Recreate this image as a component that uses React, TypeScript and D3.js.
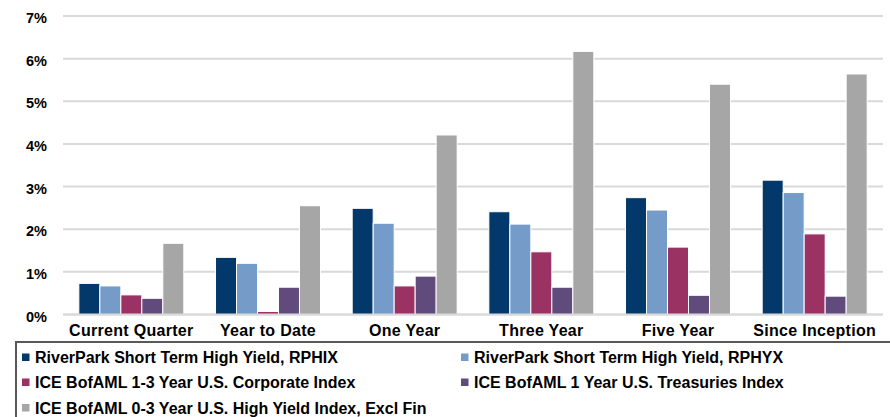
import React from "react";
import * as d3 from "d3";

const categories = ["Current Quarter", "Year to Date", "One Year", "Three Year", "Five Year", "Since Inception"];
const seriesNames = [
  "RiverPark Short Term High Yield, RPHIX",
  "RiverPark Short Term High Yield, RPHYX",
  "ICE BofAML 1-3 Year U.S. Corporate Index",
  "ICE BofAML 1 Year U.S. Treasuries Index",
  "ICE BofAML 0-3 Year U.S. High Yield Index, Excl Fin",
];
const rphix = [0.73, 1.34, 2.49, 2.41, 2.74, 3.15];
const rphyx = [0.67, 1.2, 2.14, 2.12, 2.45, 2.86];
const corp13 = [0.46, 0.07, 0.67, 1.47, 1.58, 1.89];
const treas1 = [0.38, 0.64, 0.9, 0.64, 0.45, 0.43];
const hy03 = [1.67, 2.55, 4.21, 6.17, 5.4, 5.64];
const yTicks = [0, 1, 2, 3, 4, 5, 6, 7];
const colors = ["#02386A", "#759CC9", "#9A3264", "#614A7C", "#A6A6A6"];

const seriesValues = [rphix, rphyx, corp13, treas1, hy03];

export default function App() {
  const W = 890, H = 417;
  const x0 = d3.scaleBand<string>().domain(categories).range([63, 883]).paddingInner(0.232).paddingOuter(0.116);
  const x1 = d3.scaleBand<number>().domain(d3.range(seriesNames.length)).range([0, x0.bandwidth()]);
  const y = d3.scaleLinear().domain([0, 7]).range([314.5, 16]);
  const font = "'Liberation Sans', Arial, sans-serif";
  const legendPos = [
    { x: 22, y: 357.5 },
    { x: 461, y: 357.5 },
    { x: 22, y: 382.5 },
    { x: 461, y: 382.5 },
    { x: 22, y: 408 },
  ];
  return (
    <svg width={W} height={H} style={{ position: "absolute", left: 0, top: 0, background: "#fff" }} fontFamily={font}>
      {yTicks.map((t) => (
        <g key={t}>
          <line x1={63} x2={883} y1={y(t)} y2={y(t)} stroke="#D9D9D9" strokeWidth={2} />
          <text x={47} y={y(t) + 2} dy="0.35em" textAnchor="end" fontSize={14.5} fontWeight="bold" fill="#000">
            {t}%
          </text>
        </g>
      ))}
      {categories.map((c, ci) => (
        <g key={c} transform={`translate(${x0(c)},0)`}>
          {seriesValues.map((vals, si) => (
            <rect
              key={si}
              x={x1(si)!}
              y={y(vals[ci])}
              width={x1.bandwidth()}
              height={y(0) - y(vals[ci])}
              fill={colors[si]}
              stroke="#fff"
              strokeWidth={1}
            />
          ))}
          <text x={x0.bandwidth() / 2} y={330.5} dy="0.35em" textAnchor="middle" fontSize={16} fontWeight="bold" fill="#000" letterSpacing={0.3}>
            {c}
          </text>
        </g>
      ))}
      <line x1={63} x2={883} y1={y(0)} y2={y(0)} stroke="#D9D9D9" strokeWidth={2} />
      <path d={`M16,${H} V342 H${W}`} fill="none" stroke="#595959" strokeWidth={2} />
      {seriesNames.map((n, i) => (
        <g key={n} transform={`translate(${legendPos[i].x},${legendPos[i].y})`}>
          <rect x={0} y={-4} width={7.5} height={7.5} fill={colors[i]} />
          <text x={13} y={0} dy="0.35em" fontSize={16} fontWeight="bold" fill="#000">
            {n}
          </text>
        </g>
      ))}
    </svg>
  );
}
